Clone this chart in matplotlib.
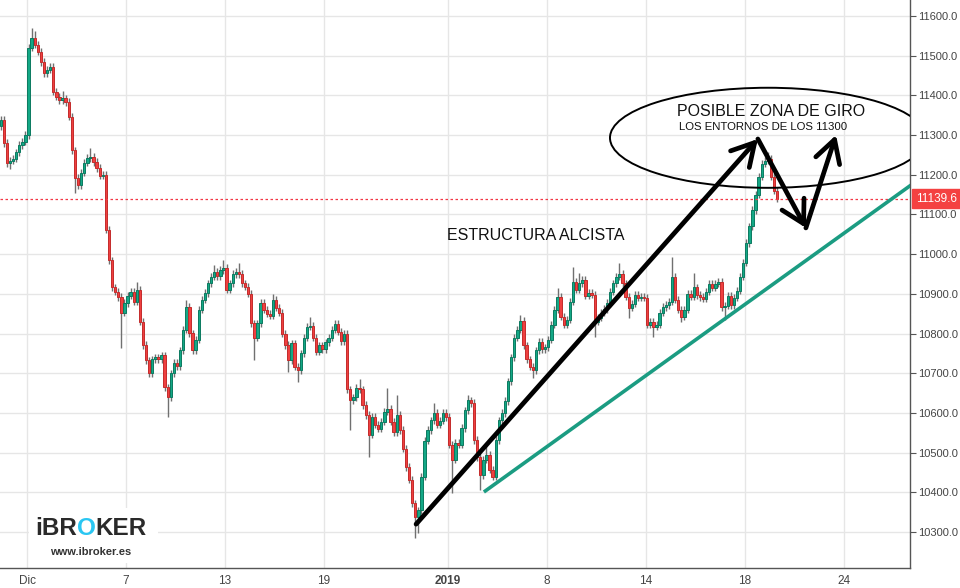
import matplotlib
matplotlib.use("Agg")
import matplotlib.pyplot as plt
from matplotlib.patches import Ellipse, Rectangle

plt.rcParams['font.family'] = ['Liberation Sans', 'DejaVu Sans']

# hourly DAX bars, 8 per trading day; day 0 = 3 Dic
BARS_PER_DAY = 8
BARS_BEFORE_DIC = 9

first_open = 11322
closes = [
    11338, 11280, 11230, 11235, 11240, 11257, 11275, 11283, 11300,
    11520, 11545, 11527, 11510, 11484, 11456, 11464, 11472,
    11409, 11396, 11388, 11392, 11383, 11346, 11262, 11192,
    11174, 11205, 11230, 11242, 11245, 11232, 11217, 11197,
    11200, 11061, 10985, 10917, 10905, 10892, 10852, 10877,
    10895, 10905, 10880, 10910, 10830, 10771, 10733, 10700,
    10735, 10740, 10735, 10745, 10665, 10640, 10700, 10726,
    10718, 10758, 10810, 10867, 10801, 10758, 10784, 10860,
    10885, 10902, 10927, 10943, 10955, 10945, 10960, 10965,
    10910, 10927, 10950, 10955, 10950, 10927, 10918, 10900,
    10826, 10790, 10826, 10877, 10860, 10850, 10845, 10885,
    10865, 10852, 10800, 10771, 10733, 10776, 10716, 10708,
    10750, 10789, 10817, 10820, 10790, 10754, 10770, 10760,
    10778, 10790, 10810, 10825, 10805, 10780, 10800, 10660,
    10632, 10640, 10663, 10660, 10620, 10595, 10545, 10590,
    10570, 10560, 10578, 10603, 10610, 10578, 10552, 10595,
    10557, 10510, 10464, 10432, 10373, 10338, 10355, 10439,
    10530, 10557, 10582, 10600, 10570, 10580, 10600, 10590,
    10520, 10482, 10525, 10520, 10562, 10607, 10632, 10625,
    10532, 10489, 10443, 10482, 10495, 10457, 10440, 10532,
    10582, 10600, 10630, 10680, 10740, 10790, 10810, 10832,
    10770, 10735, 10716, 10708, 10758, 10779, 10760, 10765,
    10785, 10822, 10860, 10892, 10842, 10822, 10835, 10880,
    10930, 10910, 10927, 10935, 10895, 10902, 10898, 10830,
    10840, 10852, 10862, 10877, 10905, 10927, 10943, 10950,
    10927, 10893, 10865, 10875, 10897, 10890, 10892, 10890,
    10822, 10830, 10817, 10822, 10852, 10867, 10872, 10880,
    10943, 10885, 10860, 10842, 10860, 10900, 10893, 10917,
    10897, 10892, 10888, 10905, 10925, 10915, 10925, 10930,
    10867, 10870, 10895, 10872, 10890, 10908, 10943, 10978,
    11028, 11070, 11111, 11150, 11195, 11228, 11235, 11240,
    11195, 11160, 11139.6,
]
# long wicks (bar index -> price)
spike_highs = {10: 11570, 11: 11562, 20: 11411, 29: 11267, 44: 10930, 60: 10885,
               69: 10973, 72: 10985, 77: 10978, 88: 10900, 100: 10842, 116: 10686,
               125: 10663, 128: 10645, 140: 10625, 151: 10645, 157: 10525, 168: 10846,
               180: 10915, 185: 10968, 187: 10952, 200: 10978, 217: 10993, 224: 10952,
               248: 11257}
spike_lows = {2: 11220, 3: 11215, 24: 11154, 39: 10764, 54: 10590, 82: 10733,
              93: 10703, 96: 10678, 113: 10557, 119: 10489, 134: 10285, 135: 10298,
              146: 10398, 155: 10405, 172: 10688, 192: 10792, 203: 10840, 211: 10792,
              220: 10830, 234: 10834}
WICK = 9

last_price = 11139.6

tick_days = [0, 4, 8, 12, 17, 21, 25, 29, 33]
tick_labels = ["Dic", "7", "13", "19", "2019", "8", "14", "18", "24"]
price_ticks = [10300, 10400, 10500, 10600, 10700, 10800, 10900, 11000,
               11100, 11200, 11300, 11400, 11500, 11600]

# drawings (day, price)
arrow_path = [(15.72, 10320), (29.53, 11290), (31.47, 11066), (32.69, 11300)]
support_line = [(18.46, 10401), (36.5, 11209)]
zone_center = (29.94, 11293)
zone_size = (12.77, 252)

UP = '#14a886'
UP_EDGE = '#0b7a60'
DOWN = '#ef4040'
DOWN_EDGE = '#c42b2b'

opens = [first_open] + closes[:-1]
xs = [(i - BARS_BEFORE_DIC + 0.5) / BARS_PER_DAY for i in range(len(closes))]

fig = plt.figure(figsize=(9.6, 5.88), dpi=100)
ax = fig.add_axes([0, 20 / 588, 910 / 960, 568 / 588])

for i, (x, o, c) in enumerate(zip(xs, opens, closes)):
    hi = spike_highs.get(i, max(o, c) + WICK)
    lo = spike_lows.get(i, min(o, c) - WICK)
    ax.vlines(x, lo, hi, color='#707070', lw=1.0, zorder=2)
    up = c >= o
    ax.bar(x, max(abs(c - o), 2), bottom=min(o, c), width=0.095,
           color=UP if up else DOWN, edgecolor=UP_EDGE if up else DOWN_EDGE,
           linewidth=0.7, zorder=3)

ax.axhline(last_price, color='#f23645', ls=(0, (2, 2)), lw=0.9, zorder=4)

(sx0, sy0), (sx1, sy1) = support_line
ax.plot([sx0, sx1], [sy0, sy1], color='#1b9c82', lw=2.6, zorder=5, solid_capstyle='butt')

ax.add_patch(Ellipse(zone_center, zone_size[0], zone_size[1], fill=False,
                     edgecolor='black', lw=1.4, zorder=5))

for a, b in zip(arrow_path[:-1], arrow_path[1:]):
    ax.annotate("", xy=b, xytext=a,
                arrowprops=dict(arrowstyle="->,head_length=0.8,head_width=0.45",
                                lw=3.4, color='black', mutation_scale=20,
                                shrinkA=0, shrinkB=0), zorder=6)

ax.text(30.06, 11360, "POSIBLE ZONA DE GIRO", ha='center', va='center', fontsize=11.5,
        color='#111', zorder=7)
ax.text(29.74, 11320, "LOS ENTORNOS DE LOS 11300", ha='center', va='center', fontsize=8.2,
        color='#111', zorder=7)
ax.text(20.57, 11046, "ESTRUCTURA ALCISTA", ha='center', va='center', fontsize=11.5,
        color='#111', zorder=7)

ax.set_xlim(-27 / 24.75, 883 / 24.75)
ax.set_ylim(10209.6, 11640)

ax.set_xticks(tick_days)
ax.set_xticklabels(tick_labels)
ax.get_xticklabels()[4].set_fontweight('bold')
ax.set_yticks(price_ticks)
ax.set_yticklabels([f"{v:.1f}" for v in price_ticks])
ax.yaxis.tick_right()

ax.tick_params(axis='x', length=0, pad=5, labelsize=8.5, labelcolor='#444')
ax.tick_params(axis='y', length=4, width=0.8, color='#555', pad=2, labelsize=8, labelcolor='#444')
for side in ['left', 'top']:
    ax.spines[side].set_visible(False)
for side in ['right', 'bottom']:
    ax.spines[side].set_color('#555')
    ax.spines[side].set_linewidth(1)
ax.grid(color='#e6e6e6', lw=1)
ax.set_axisbelow(True)

# last price label
ax.annotate(f"{last_price:.1f}", xy=(1, last_price), xycoords=ax.get_yaxis_transform(),
            xytext=(4, 0), textcoords='offset points', ha='left', va='center',
            fontsize=8.5, color='white', annotation_clip=False,
            bbox=dict(boxstyle='square,pad=0.3', fc='#f44141', ec='#f44141'))

# logo
ax.add_patch(Rectangle((29 / 960, 25 / 588), 129 / 960, 55 / 588, transform=fig.transFigure,
                       facecolor='white', edgecolor='none', zorder=7, clip_on=False))
t1 = ax.text(35 / 960, 48 / 588, "iBR", transform=fig.transFigure, fontsize=17.5,
             fontweight='bold', color='#2a2a2a', va='bottom', ha='left', zorder=8)
t2 = ax.annotate("O", xy=(1, 0), xycoords=t1, fontsize=17.5, fontweight='bold',
                 color='#2ac6f2', va='bottom', ha='left', zorder=8)
ax.annotate("KER", xy=(1, 0), xycoords=t2, fontsize=17.5, fontweight='bold',
            color='#2a2a2a', va='bottom', ha='left', zorder=8)
ax.text(91 / 960, 36 / 588, "www.ibroker.es", transform=fig.transFigure, fontsize=8,
        fontweight='bold', color='#333', ha='center', va='center', zorder=8)

fig.savefig('out.png', dpi=100)
